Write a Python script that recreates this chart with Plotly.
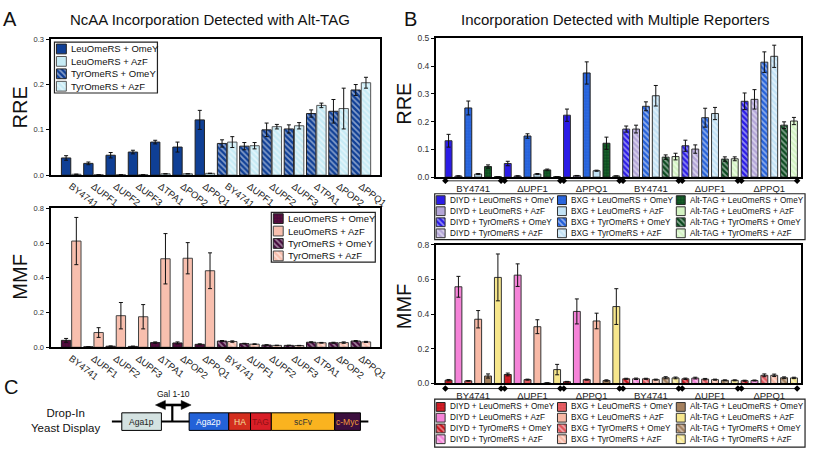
import plotly.graph_objects as go

W, H = 817, 454
FONT = "Arial, 'Liberation Sans', sans-serif"

# ---------------- Panel A data ----------------
strains_a = ["BY4741", "ΔUPF1", "ΔUPF2", "ΔUPF3", "ΔTPA1", "ΔPOP2", "ΔPPQ1"]
legend_a = ["LeuOmeRS + OmeY", "LeuOmeRS + AzF", "TyrOmeRS + OmeY", "TyrOmeRS + AzF"]

a_rre_leu_omey = [0.038, 0.026, 0.044, 0.051, 0.073, 0.062, 0.122]
a_rre_leu_omey_err = [0.005, 0.003, 0.006, 0.004, 0.004, 0.011, 0.021]
a_rre_leu_azf = [0.002, 0.001, 0.001, 0.001, 0.003, 0.003, 0.004]
a_rre_leu_azf_err = [0.0, 0.0, 0.0, 0.0, 0.0, 0.0, 0.0]
a_rre_tyr_omey = [0.070, 0.064, 0.100, 0.102, 0.136, 0.141, 0.188]
a_rre_tyr_omey_err = [0.008, 0.008, 0.015, 0.009, 0.008, 0.026, 0.012]
a_rre_tyr_azf = [0.073, 0.065, 0.107, 0.109, 0.154, 0.147, 0.204]
a_rre_tyr_azf_err = [0.012, 0.007, 0.005, 0.007, 0.005, 0.045, 0.012]

a_mmf_leu_omey = [0.040, 0.003, 0.006, 0.005, 0.027, 0.025, 0.017]
a_mmf_leu_omey_err = [0.011, 0.001, 0.002, 0.002, 0.004, 0.006, 0.003]
a_mmf_leu_azf = [0.612, 0.085, 0.182, 0.176, 0.510, 0.513, 0.441]
a_mmf_leu_azf_err = [0.136, 0.028, 0.076, 0.070, 0.145, 0.090, 0.103]
a_mmf_tyr_omey = [0.036, 0.021, 0.013, 0.011, 0.029, 0.026, 0.036]
a_mmf_tyr_omey_err = [0.003, 0.002, 0.002, 0.001, 0.003, 0.003, 0.003]
a_mmf_tyr_azf = [0.033, 0.018, 0.011, 0.010, 0.026, 0.027, 0.031]
a_mmf_tyr_azf_err = [0.004, 0.002, 0.001, 0.001, 0.002, 0.004, 0.003]

# ---------------- Panel B data ----------------
strains_b = ["BY4741", "ΔUPF1", "ΔPPQ1"]
reporters_b = ["DIYD", "BXG", "Alt-TAG"]

b_rre_diyd_leu_omey = [0.131, 0.049, 0.223]
b_rre_diyd_leu_omey_err = [0.023, 0.008, 0.022]
b_rre_diyd_leu_azf = [0.004, 0.004, 0.005]
b_rre_diyd_leu_azf_err = [0.001, 0.001, 0.001]
b_rre_bxg_leu_omey = [0.249, 0.148, 0.375]
b_rre_bxg_leu_omey_err = [0.025, 0.008, 0.040]
b_rre_bxg_leu_azf = [0.011, 0.011, 0.023]
b_rre_bxg_leu_azf_err = [0.002, 0.002, 0.002]
b_rre_alt_leu_omey = [0.038, 0.026, 0.122]
b_rre_alt_leu_omey_err = [0.006, 0.003, 0.022]
b_rre_alt_leu_azf = [0.002, 0.002, 0.004]
b_rre_alt_leu_azf_err = [0.0, 0.0, 0.0]
b_rre_diyd_tyr_omey = [0.173, 0.113, 0.273]
b_rre_diyd_tyr_omey_err = [0.011, 0.020, 0.030]
b_rre_diyd_tyr_azf = [0.173, 0.101, 0.280]
b_rre_diyd_tyr_azf_err = [0.014, 0.015, 0.035]
b_rre_bxg_tyr_omey = [0.255, 0.214, 0.414]
b_rre_bxg_tyr_omey_err = [0.016, 0.034, 0.037]
b_rre_bxg_tyr_azf = [0.293, 0.229, 0.435]
b_rre_bxg_tyr_azf_err = [0.037, 0.022, 0.040]
b_rre_alt_tyr_omey = [0.072, 0.065, 0.187]
b_rre_alt_tyr_omey_err = [0.008, 0.008, 0.012]
b_rre_alt_tyr_azf = [0.074, 0.066, 0.202]
b_rre_alt_tyr_azf_err = [0.012, 0.007, 0.013]

b_mmf_diyd_leu_omey = [0.019, 0.052, 0.010]
b_mmf_diyd_leu_omey_err = [0.004, 0.008, 0.002]
b_mmf_diyd_leu_azf = [0.557, 0.624, 0.415]
b_mmf_diyd_leu_azf_err = [0.060, 0.065, 0.072]
b_mmf_bxg_leu_omey = [0.015, 0.022, 0.022]
b_mmf_bxg_leu_omey_err = [0.002, 0.003, 0.003]
b_mmf_bxg_leu_azf = [0.370, 0.327, 0.360]
b_mmf_bxg_leu_azf_err = [0.050, 0.040, 0.045]
b_mmf_alt_leu_omey = [0.043, 0.003, 0.017]
b_mmf_alt_leu_omey_err = [0.012, 0.001, 0.004]
b_mmf_alt_leu_azf = [0.611, 0.080, 0.443]
b_mmf_alt_leu_azf_err = [0.135, 0.030, 0.103]
b_mmf_diyd_tyr_omey = [0.027, 0.027, 0.016]
b_mmf_diyd_tyr_omey_err = [0.003, 0.004, 0.003]
b_mmf_diyd_tyr_azf = [0.027, 0.031, 0.017]
b_mmf_diyd_tyr_azf_err = [0.004, 0.005, 0.003]
b_mmf_bxg_tyr_omey = [0.027, 0.025, 0.047]
b_mmf_bxg_tyr_omey_err = [0.003, 0.004, 0.008]
b_mmf_bxg_tyr_azf = [0.022, 0.022, 0.047]
b_mmf_bxg_tyr_azf_err = [0.003, 0.003, 0.007]
b_mmf_alt_tyr_omey = [0.033, 0.018, 0.033]
b_mmf_alt_tyr_omey_err = [0.006, 0.003, 0.005]
b_mmf_alt_tyr_azf = [0.032, 0.018, 0.032]
b_mmf_alt_tyr_azf_err = [0.005, 0.003, 0.004]

# ---------------- styles ----------------
def mk(color, kind, dotc=None, lc="#222"):
    m = dict(color=color, line=dict(color=lc, width=1))
    if kind == "stripe":
        m["pattern"] = dict(shape="\\", fgcolor="white", fillmode="overlay", size=4, solidity=0.42)
    elif kind == "dot":
        m["pattern"] = dict(shape=".", fgcolor=dotc or "white", fillmode="overlay", size=3, solidity=0.35)
    return m

NAVY = "#0f3f95"; CYAN = "#c6ebf5"
MAROON = "#45093c"; SALMON = "#f8bfae"
styles_a_top = [mk(NAVY, "solid"), mk(CYAN, "solid", lc="#555"), mk(NAVY, "stripe"), mk(CYAN, "stripe", lc="#555")]
styles_a_bot = [mk(MAROON, "dot", "#8c1a3a"), mk(SALMON, "solid", lc="#444"),
                mk(MAROON, "stripe"), mk(SALMON, "stripe", lc="#444")]

b_top_cols = {"DIYD": ("#2b1ce6", "#b4a6d8"), "BXG": ("#2561d8", "#c3e3f6"), "Alt-TAG": ("#0c4a20", "#d4f4c4")}
b_bot_cols = {"DIYD": ("#c8141e", "#f583d8"), "BXG": ("#e2555c", "#f8b9a6"), "Alt-TAG": ("#a4805e", "#f6e68c")}
b_top_dots = {"DIYD": None, "BXG": "#3a7af0", "Alt-TAG": "#2f8a3a"}
b_bot_dots = {"DIYD": "#e04040", "BXG": "#f07a80", "Alt-TAG": None}

def b_style(cols, dots, rep, synth, aa):
    c = cols[rep][0 if aa == "OmeY" else 1]
    if synth == "tyr":
        return mk(c, "stripe", lc="#333")
    if aa == "OmeY" and dots[rep]:
        return mk(c, "dot", dots[rep], lc="#222")
    return mk(c, "solid", lc="#333")

fig = go.Figure()
ERR = dict(type="data", color="#111", thickness=1, width=2)

# ---------------- Panel A bars ----------------
BW_A = 0.42
def a_bar(vals, errs, xs, off, st, ax):
    fig.add_trace(go.Bar(x=xs, y=vals, width=BW_A, offset=off, marker=st,
                         error_y=dict(array=errs, **ERR), xaxis="x" + ax, yaxis="y" + ax,
                         showlegend=False, hoverinfo="y"))

leu_x = list(range(len(strains_a)))
tyr_x = [i + len(strains_a) for i in range(len(strains_a))]
a_bar(a_rre_leu_omey, a_rre_leu_omey_err, leu_x, -0.44, styles_a_top[0], "")
a_bar(a_rre_leu_azf, a_rre_leu_azf_err, leu_x, 0.02, styles_a_top[1], "")
a_bar(a_rre_tyr_omey, a_rre_tyr_omey_err, tyr_x, -0.44, styles_a_top[2], "")
a_bar(a_rre_tyr_azf, a_rre_tyr_azf_err, tyr_x, 0.02, styles_a_top[3], "")
a_bar(a_mmf_leu_omey, a_mmf_leu_omey_err, leu_x, -0.44, styles_a_bot[0], "2")
a_bar(a_mmf_leu_azf, a_mmf_leu_azf_err, leu_x, 0.02, styles_a_bot[1], "2")
a_bar(a_mmf_tyr_omey, a_mmf_tyr_omey_err, tyr_x, -0.44, styles_a_bot[2], "2")
a_bar(a_mmf_tyr_azf, a_mmf_tyr_azf_err, tyr_x, 0.02, styles_a_bot[3], "2")

# ---------------- Panel B bars ----------------
b_series_rre = [
    ("DIYD", "leu", "OmeY", b_rre_diyd_leu_omey, b_rre_diyd_leu_omey_err),
    ("DIYD", "leu", "AzF", b_rre_diyd_leu_azf, b_rre_diyd_leu_azf_err),
    ("BXG", "leu", "OmeY", b_rre_bxg_leu_omey, b_rre_bxg_leu_omey_err),
    ("BXG", "leu", "AzF", b_rre_bxg_leu_azf, b_rre_bxg_leu_azf_err),
    ("Alt-TAG", "leu", "OmeY", b_rre_alt_leu_omey, b_rre_alt_leu_omey_err),
    ("Alt-TAG", "leu", "AzF", b_rre_alt_leu_azf, b_rre_alt_leu_azf_err),
    ("DIYD", "tyr", "OmeY", b_rre_diyd_tyr_omey, b_rre_diyd_tyr_omey_err),
    ("DIYD", "tyr", "AzF", b_rre_diyd_tyr_azf, b_rre_diyd_tyr_azf_err),
    ("BXG", "tyr", "OmeY", b_rre_bxg_tyr_omey, b_rre_bxg_tyr_omey_err),
    ("BXG", "tyr", "AzF", b_rre_bxg_tyr_azf, b_rre_bxg_tyr_azf_err),
    ("Alt-TAG", "tyr", "OmeY", b_rre_alt_tyr_omey, b_rre_alt_tyr_omey_err),
    ("Alt-TAG", "tyr", "AzF", b_rre_alt_tyr_azf, b_rre_alt_tyr_azf_err),
]
b_series_mmf = [
    ("DIYD", "leu", "OmeY", b_mmf_diyd_leu_omey, b_mmf_diyd_leu_omey_err),
    ("DIYD", "leu", "AzF", b_mmf_diyd_leu_azf, b_mmf_diyd_leu_azf_err),
    ("BXG", "leu", "OmeY", b_mmf_bxg_leu_omey, b_mmf_bxg_leu_omey_err),
    ("BXG", "leu", "AzF", b_mmf_bxg_leu_azf, b_mmf_bxg_leu_azf_err),
    ("Alt-TAG", "leu", "OmeY", b_mmf_alt_leu_omey, b_mmf_alt_leu_omey_err),
    ("Alt-TAG", "leu", "AzF", b_mmf_alt_leu_azf, b_mmf_alt_leu_azf_err),
    ("DIYD", "tyr", "OmeY", b_mmf_diyd_tyr_omey, b_mmf_diyd_tyr_omey_err),
    ("DIYD", "tyr", "AzF", b_mmf_diyd_tyr_azf, b_mmf_diyd_tyr_azf_err),
    ("BXG", "tyr", "OmeY", b_mmf_bxg_tyr_omey, b_mmf_bxg_tyr_omey_err),
    ("BXG", "tyr", "AzF", b_mmf_bxg_tyr_azf, b_mmf_bxg_tyr_azf_err),
    ("Alt-TAG", "tyr", "OmeY", b_mmf_alt_tyr_omey, b_mmf_alt_tyr_omey_err),
    ("Alt-TAG", "tyr", "AzF", b_mmf_alt_tyr_azf, b_mmf_alt_tyr_azf_err),
]
SLOTS = 6
BW_B = 0.7 / SLOTS
def b_bars(series, cols, dots, ax):
    for rep, synth, aa, vals, errs in series:
        k = reporters_b.index(rep) * 2 + (0 if aa == "OmeY" else 1)
        xs = [i + (0 if synth == "leu" else len(strains_b)) for i in range(len(strains_b))]
        off = (k - (SLOTS - 1) / 2) / SLOTS - BW_B / 2
        fig.add_trace(go.Bar(x=xs, y=vals, width=BW_B, offset=off,
                             marker=b_style(cols, dots, rep, synth, aa),
                             error_y=dict(array=errs, **ERR), xaxis="x" + ax, yaxis="y" + ax,
                             showlegend=False, hoverinfo="y"))
b_bars(b_series_rre, b_top_cols, b_top_dots, "3")
b_bars(b_series_mmf, b_bot_cols, b_bot_dots, "4")

# ---------------- layout helpers ----------------
def px_x(x): return x / W
def px_y(y): return 1 - y / H

layout = dict(width=W, height=H, margin=dict(l=0, r=0, t=0, b=0),
              paper_bgcolor="white", plot_bgcolor="rgba(0,0,0,0)",
              barmode="overlay", showlegend=False, font=dict(family=FONT, color="#111"))

def yax(x0, y0, x1, y1, rng, dtick, fs, lw, anchor):
    return dict(domain=[px_y(y1), px_y(y0)], range=rng, dtick=dtick, tickformat=".1f",
                showline=True, linecolor="black", linewidth=lw, mirror=True, ticks="outside",
                ticklen=3, tickwidth=1, tickcolor="black", showgrid=False, zeroline=False,
                tickfont=dict(size=fs, color="#333"), anchor=anchor, fixedrange=True)

def xax(x0, x1, rng, tv, tt, fs, lw, anchor, angle):
    return dict(domain=[px_x(x0), px_x(x1)], range=rng, tickmode="array", tickvals=tv, ticktext=tt,
                tickangle=angle, showline=True, linecolor="black", linewidth=lw, mirror=True,
                ticks="", showgrid=False, zeroline=False, tickfont=dict(size=fs, color="#222"),
                anchor=anchor, fixedrange=True)

A_RANGE = [-0.93, 13.87]
B_RANGE = [-0.634, 5.537]
a_ticks = list(range(2 * len(strains_a)))
layout["xaxis"] = xax(51, 384, A_RANGE, a_ticks, strains_a * 2, 9.5, 2, "y", 38)
layout["yaxis"] = yax(51, 35, 384, 174, [0, 0.3], 0.1, 7.5, 2, "x")
layout["xaxis2"] = xax(51, 384, A_RANGE, a_ticks, strains_a * 2, 9.5, 2, "y2", 38)
layout["yaxis2"] = yax(51, 208, 384, 350, [0, 0.8], 0.2, 7.5, 2, "x2")
ngroups = 2 * len(strains_b)
b_ticks = list(range(ngroups))
layout["xaxis3"] = xax(440, 809, B_RANGE, b_ticks, strains_b * 2, 9.5, 1.5, "y3", 0)
layout["yaxis3"] = yax(440, 34, 809, 176, [0, 0.5], 0.1, 8.5, 1.5, "x3")
layout["xaxis4"] = xax(440, 809, B_RANGE, b_ticks, strains_b * 2, 9.5, 1.5, "y4", 0)
layout["yaxis4"] = yax(440, 245, 809, 387, [0, 0.8], 0.2, 8.5, 1.5, "x4")
for k in ("xaxis3", "xaxis4"):
    layout[k]["ticklabelstandoff"] = 2

shapes = []
annotations = []

# group separators (line with diamonds) in thin strips under the B axes
sep_x, sep_y = [], []
for g in range(ngroups):
    sep_x += [g - 0.47, g + 0.47, None]
    sep_y += [0.5, 0.5, None]
for idx, (sy0, sy1) in ((9, (175.3, 184.3)), (10, (387.7, 396.7))):
    layout[f"xaxis{idx}"] = dict(domain=[px_x(440), px_x(809)], range=B_RANGE, visible=False,
                                 fixedrange=True, anchor=f"y{idx}")
    layout[f"yaxis{idx}"] = dict(domain=[px_y(sy1), px_y(sy0)], range=[0, 1], visible=False,
                                 fixedrange=True, anchor=f"x{idx}")
    fig.add_trace(go.Scatter(x=sep_x, y=sep_y, mode="lines+markers",
                             line=dict(color="black", width=0.8),
                             marker=dict(symbol="diamond", size=5, color="black"),
                             xaxis=f"x{idx}", yaxis=f"y{idx}", showlegend=False, hoverinfo="skip"))

# ---------------- custom compact legends ----------------
def add_legend(idx, box, entries, col_x, sw, pitch, fs):
    x0, y0, x1, y1 = box
    bw, bh = x1 - x0, y1 - y0
    layout[f"xaxis{idx}"] = dict(domain=[px_x(x0), px_x(x1)], range=[0, bw], visible=False,
                                 fixedrange=True, anchor=f"y{idx}")
    layout[f"yaxis{idx}"] = dict(domain=[px_y(y1), px_y(y0)], range=[bh, 0], visible=False,
                                 fixedrange=True, anchor=f"x{idx}")
    first = bh / 2 - 1.5 * pitch
    for label, st, col, row in entries:
        cy = first + row * pitch
        sx = col_x[col]
        fig.add_trace(go.Bar(x=[sx + sw / 2], y=[sw], base=[cy - sw / 2], width=[sw], marker=st,
                             xaxis=f"x{idx}", yaxis=f"y{idx}", showlegend=False, hoverinfo="skip"))
        annotations.append(dict(x=sx + sw + 2.5, y=cy, xref=f"x{idx}", yref=f"y{idx}", text=label,
                                showarrow=False, xanchor="left", yanchor="middle",
                                font=dict(size=fs, color="#111")))
    shapes.append(dict(type="rect", xref="paper", yref="paper", x0=px_x(x0), x1=px_x(x1),
                       y0=px_y(y1), y1=px_y(y0), line=dict(color="#222", width=1.2), layer="above"))

add_legend(5, (55, 38, 159, 90), [(legend_a[i], styles_a_top[i], 0, i) for i in range(4)],
           [2], 10, 12.7, 9.5)
add_legend(6, (274, 212, 379, 263), [(legend_a[i], styles_a_bot[i], 0, i) for i in range(4)],
           [2], 10, 12.7, 9.5)

def b_legend_entries(cols, dots):
    out = []
    for c, rep in enumerate(reporters_b):
        for r, (synth, aa) in enumerate([("leu", "OmeY"), ("leu", "AzF"), ("tyr", "OmeY"), ("tyr", "AzF")]):
            sname = "LeuOmeRS" if synth == "leu" else "TyrOmeRS"
            out.append((f"{rep} + {sname} + {aa}", b_style(cols, dots, rep, synth, aa), c, r))
    return out

add_legend(7, (439, 193, 813, 240), b_legend_entries(b_top_cols, b_top_dots), [1.5, 124, 244], 9, 11.3, 8.2)
add_legend(8, (439, 403, 813, 452), b_legend_entries(b_bot_cols, b_bot_dots), [1.5, 124, 244], 9, 11.0, 8.2)

# ---------------- titles and labels ----------------
def txt(x, y, s, size, color="#111", angle=0, xanchor="center"):
    annotations.append(dict(x=px_x(x), y=px_y(y), xref="paper", yref="paper", text=s, showarrow=False,
                            xanchor=xanchor, yanchor="middle", textangle=angle,
                            font=dict(size=size, color=color)))

txt(212, 15, "NcAA Incorporation Detected with Alt-TAG", 15)
txt(621, 15, "Incorporation Detected with Multiple Reporters", 15)
txt(10, 14, "A", 20); txt(415, 14, "B", 20); txt(11, 391, "C", 20)
txt(20, 105, "RRE", 20, angle=-90); txt(20, 278, "MMF", 20, angle=-90)
txt(408, 101, "RRE", 20, angle=-90); txt(408, 308, "MMF", 20, angle=-90)

# ---------------- Panel C schematic ----------------
def rect(x0, y0, x1, y1, fill):
    shapes.append(dict(type="rect", xref="paper", yref="paper", x0=px_x(x0), x1=px_x(x1),
                       y0=px_y(y1), y1=px_y(y0), fillcolor=fill, line=dict(color="black", width=1),
                       layer="above"))
def seg(x0, y0, x1, y1, w):
    shapes.append(dict(type="line", xref="paper", yref="paper", x0=px_x(x0), x1=px_x(x1),
                       y0=px_y(y0), y1=px_y(y1), line=dict(color="black", width=w), layer="above"))
def tri(pts):
    p = "M " + " L ".join(f"{px_x(a):.5f},{px_y(b):.5f}" for a, b in pts) + " Z"
    shapes.append(dict(type="path", xref="paper", yref="paper", path=p, fillcolor="black",
                       line=dict(color="black", width=0.5), layer="above"))

seg(113, 426, 372, 426, 2)
seg(174, 409, 174, 426, 2.2)
seg(164, 409, 186, 409, 2.6)
tri([(157, 409), (167, 404.3), (167, 413.7)])
tri([(193, 409), (183, 404.3), (183, 413.7)])
blocks = [("Aga1p", 123, 163, "#d4e2e1", "#222"), ("Aga2p", 191, 231, "#2362d8", "white"),
          ("HA", 231, 253, "#d42e1e", "#f3e3a0"), ("TAG", 253, 274, "#d91e27", "#8c1014"),
          ("scFv", 274, 338, "#fab31f", "#333"), ("c-Myc", 338, 364, "#3c0f3e", "#f09a3a")]
for name, bx0, bx1, fill, tc in blocks:
    rect(bx0, 417, bx1, 435, fill)
    txt((bx0 + bx1) / 2, 426, name, 8.5, color=tc)
txt(175, 398, "Gal 1-10", 8.5)
txt(67, 425, "Drop-In<br>Yeast Display", 11.5)

layout["shapes"] = shapes
layout["annotations"] = annotations
fig.update_layout(**layout)
fig.write_html("out.html", config={"displayModeBar": False},
               post_script="document.body.style.margin='0';")
